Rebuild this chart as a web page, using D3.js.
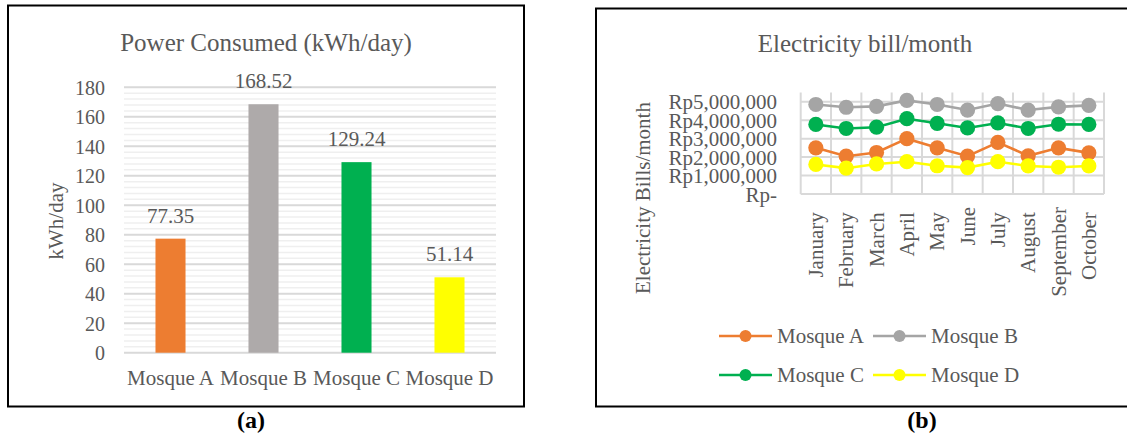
<!DOCTYPE html>
<html>
<head>
<meta charset="utf-8">
<script src="https://cdn.jsdelivr.net/npm/d3@7/dist/d3.min.js"></script>
<style>
  html, body { margin: 0; padding: 0; background: #fff; }
  svg { display: block; font-family: "Liberation Serif", "Times New Roman", serif; }
  text { white-space: pre; }
</style>
</head>
<body>
<svg id="fig" width="1127" height="442"></svg>
<script>
// ---- (a) daily power consumption ----
const mosques = ["Mosque A", "Mosque B", "Mosque C", "Mosque D"];
const powerKwhDay = [77.35, 168.52, 129.24, 51.14];
const barColors = ["#ED7D31", "#AEAAAA", "#00B050", "#FFFF00"];
const powerTicks = [0, 20, 40, 60, 80, 100, 120, 140, 160, 180];

// ---- (b) monthly electricity bill ----
const months = ["January ", "February ", "March ", "April ", "May ", "June", "July ", "August ", "September", "October "];
const billA = [2500000, 2050000, 2250000, 3000000, 2500000, 2050000, 2800000, 2070000, 2500000, 2230000];
const billB = [4850000, 4700000, 4750000, 5070000, 4850000, 4550000, 4900000, 4550000, 4720000, 4800000];
const billC = [3770000, 3550000, 3620000, 4080000, 3830000, 3580000, 3850000, 3550000, 3780000, 3770000];
const billD = [1600000, 1400000, 1630000, 1750000, 1530000, 1430000, 1750000, 1520000, 1450000, 1520000];
const seriesNames = ["Mosque A", "Mosque B", "Mosque C", "Mosque D"];
const lineColors = ["#ED7D31", "#A5A5A5", "#00B050", "#FFFF00"];
const billTicks = [0, 1000000, 2000000, 3000000, 4000000, 5000000];

const TXT = "#595959";
const svg = d3.select("#fig");

// ================= Panel (a) =================
const pa = svg.append("g");
pa.append("rect").attr("x", 8).attr("y", 5.5).attr("width", 516).attr("height", 401)
  .attr("fill", "#fff").attr("stroke", "#000").attr("stroke-width", 2);

pa.append("text").attr("x", 266).attr("y", 51).attr("text-anchor", "middle")
  .attr("font-size", 25).attr("fill", TXT).text("Power Consumed (kWh/day)");

const xA = d3.scaleBand().domain(mosques).range([124, 496]).padding(0);
const yA = d3.scaleLinear().domain([0, 180]).range([352.7, 87.3]);

// minor gridlines every 4 units
const minor = d3.range(0, 181, 4).filter(v => v % 20 !== 0);
pa.append("g").selectAll("line").data(minor).join("line")
  .attr("x1", 124).attr("x2", 496)
  .attr("y1", d => yA(d)).attr("y2", d => yA(d))
  .attr("stroke", "#efefef").attr("stroke-width", 1.5);
// major gridlines
pa.append("g").selectAll("line").data(powerTicks).join("line")
  .attr("x1", 124).attr("x2", 496)
  .attr("y1", d => yA(d)).attr("y2", d => yA(d))
  .attr("stroke", "#d9d9d9").attr("stroke-width", 2);

// y axis labels
const axA = pa.append("g").attr("transform", "translate(105,0)")
  .call(d3.axisLeft(yA).tickValues(powerTicks).tickSize(0).tickPadding(0));
axA.select(".domain").remove();
axA.selectAll("text").attr("font-size", 20).attr("fill", TXT)
  .attr("font-family", "Liberation Serif").attr("dy", "0.36em");

// bars
const barW = xA.bandwidth() * 0.323;
pa.append("g").selectAll("rect").data(powerKwhDay).join("rect")
  .attr("x", (d, i) => xA(mosques[i]) + xA.bandwidth() / 2 - barW / 2)
  .attr("y", d => yA(d))
  .attr("width", barW)
  .attr("height", d => yA(0) - yA(d))
  .attr("fill", (d, i) => barColors[i]);

// value labels
pa.append("g").selectAll("text").data(powerKwhDay).join("text")
  .attr("x", (d, i) => xA(mosques[i]) + xA.bandwidth() / 2)
  .attr("y", d => yA(d) - 16)
  .attr("text-anchor", "middle").attr("font-size", 21).attr("fill", TXT)
  .text(d => d.toFixed(2));

// category labels
const cxA = pa.append("g").attr("transform", "translate(0,370)")
  .call(d3.axisBottom(xA).tickSize(0).tickPadding(0));
cxA.select(".domain").remove();
cxA.selectAll("text").attr("font-size", 21).attr("fill", TXT)
  .attr("font-family", "Liberation Serif").attr("dy", "0.71em");

// y axis title
pa.append("text").attr("transform", "translate(63,221) rotate(-90)")
  .attr("text-anchor", "middle").attr("font-size", 21).attr("fill", TXT).text("kWh/day");

svg.append("text").attr("x", 251).attr("y", 428).attr("text-anchor", "middle")
  .attr("font-size", 24).attr("font-weight", "bold").attr("fill", "#000").text("(a)");

// ================= Panel (b) =================
const pb = svg.append("g");
pb.append("rect").attr("x", 596).attr("y", 8.5).attr("width", 560).attr("height", 398)
  .attr("fill", "#fff").attr("stroke", "#000").attr("stroke-width", 2);

pb.append("text").attr("x", 865).attr("y", 52).attr("text-anchor", "middle")
  .attr("font-size", 25).attr("fill", TXT).text("Electricity bill/month");

const xB = d3.scaleBand().domain(months).range([800.7, 1104]).padding(0);
const yB = d3.scaleLinear().domain([0, 5500000]).range([194, 92.5]);
const cx = m => xB(m) + xB.bandwidth() / 2;

// horizontal gridlines
pb.append("g").selectAll("line").data(billTicks).join("line")
  .attr("x1", 800.7).attr("x2", 1104)
  .attr("y1", d => yB(d)).attr("y2", d => yB(d))
  .attr("stroke", "#d9d9d9").attr("stroke-width", 2);
// vertical gridlines at category boundaries
const edges = months.map(m => xB(m)).concat([xB.range()[1]]);
pb.append("g").selectAll("line").data(edges).join("line")
  .attr("x1", d => d).attr("x2", d => d)
  .attr("y1", yB(5500000)).attr("y2", yB(0))
  .attr("stroke", "#d9d9d9").attr("stroke-width", 2);

// y axis labels (accounting format)
const fmtRp = v => v === 0 ? "Rp-" : "Rp" + d3.format(",")(v);
const axB = pb.append("g").attr("transform", "translate(777,0)")
  .call(d3.axisLeft(yB).tickValues(billTicks).tickFormat(fmtRp).tickSize(0).tickPadding(0));
axB.select(".domain").remove();
axB.selectAll("text").attr("font-size", 21).attr("fill", TXT)
  .attr("font-family", "Liberation Serif").attr("dy", "0.34em");

// month labels, rotated
pb.append("g").selectAll("text").data(months).join("text")
  .attr("transform", d => `translate(${cx(d)},207) rotate(-90)`)
  .attr("dy", "0.34em").attr("text-anchor", "end")
  .attr("font-size", 21).attr("fill", TXT).text(d => d);

// y axis title
pb.append("text").attr("transform", "translate(650,198) rotate(-90)")
  .attr("text-anchor", "middle").attr("font-size", 21).attr("fill", TXT)
  .text("Electricity Bills/month");

// series lines and markers
const bills = [billA, billB, billC, billD];
const lineGen = d3.line().x((d, i) => cx(months[i])).y(d => yB(d));
const drawOrder = [1, 2, 0, 3];
drawOrder.forEach(s => {
  const g = pb.append("g");
  g.append("path").attr("d", lineGen(bills[s])).attr("fill", "none")
    .attr("stroke", lineColors[s]).attr("stroke-width", 2.6);
  g.selectAll("circle").data(bills[s]).join("circle")
    .attr("cx", (d, i) => cx(months[i])).attr("cy", d => yB(d))
    .attr("r", 7.6).attr("fill", lineColors[s]);
});

// legend
const legendPos = [[719, 336], [873, 336], [719, 375], [873, 375]];
seriesNames.forEach((name, s) => {
  const [lx, ly] = legendPos[s];
  const g = pb.append("g");
  g.append("line").attr("x1", lx).attr("x2", lx + 53).attr("y1", ly).attr("y2", ly)
    .attr("stroke", lineColors[s]).attr("stroke-width", 2.6);
  g.append("circle").attr("cx", lx + 26.5).attr("cy", ly).attr("r", 6).attr("fill", lineColors[s]);
  g.append("text").attr("x", lx + 58).attr("y", ly).attr("dy", "0.34em")
    .attr("font-size", 21).attr("fill", TXT).text(name);
});

svg.append("text").attr("x", 922).attr("y", 428).attr("text-anchor", "middle")
  .attr("font-size", 24).attr("font-weight", "bold").attr("fill", "#000").text("(b)");
</script>
</body>
</html>
